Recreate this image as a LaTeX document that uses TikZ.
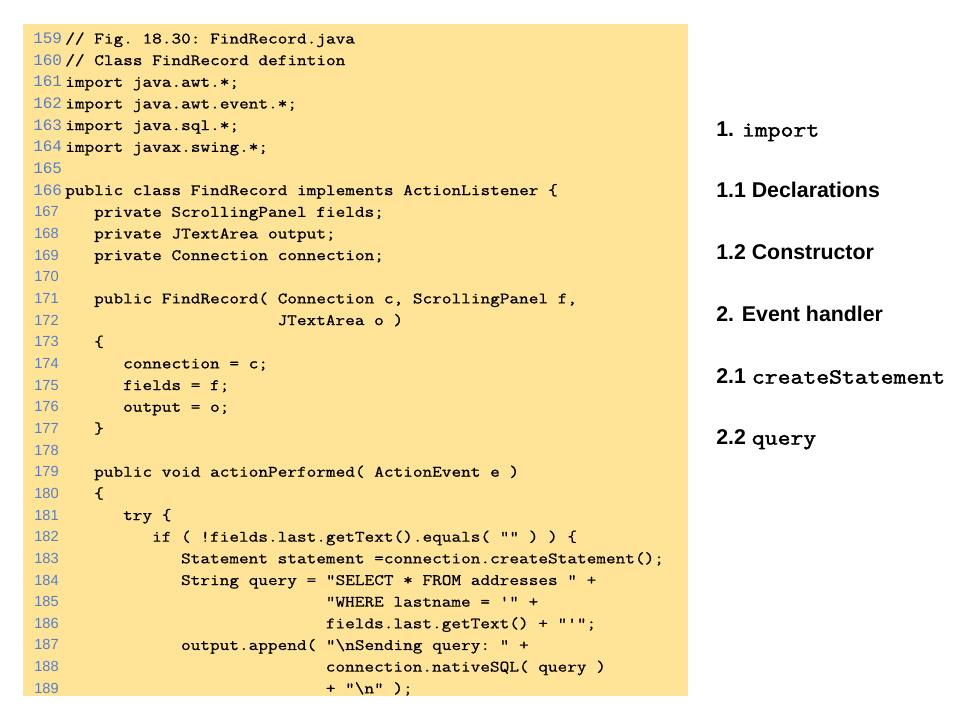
\documentclass[tikz,border=0pt]{standalone}
\usepackage{fontspec}
\setmainfont{Liberation Sans}
\setsansfont{Liberation Sans}
\setmonofont{Liberation Mono}
\newfontfamily\codefont{Latin Modern Mono}[FakeStretch=1.172,FakeBold=0.9]
\newfontfamily\codefontb{Latin Modern Mono}[FakeStretch=1.172,FakeBold=0.6]
\newfontfamily\labmono{Latin Modern Mono}[FakeStretch=1.172,FakeBold=2.0]
\definecolor{codebg}{RGB}{255,228,151}
\definecolor{lnum}{RGB}{90,126,192}
\tikzset{
  lnA/.style={inner sep=0pt, anchor=base west, text=lnum, font=\ttfamily\fontsize{12}{14}\selectfont},
  lnB/.style={inner sep=0pt, anchor=base west, text=lnum, font=\sffamily\fontsize{11}{13}\selectfont},
  codeA/.style={inner sep=0pt, anchor=base west, text=black, font=\codefont\fontsize{12}{14}\selectfont\frenchspacing},
  codeB/.style={inner sep=0pt, anchor=base west, text=black, font=\codefontb\fontsize{12}{14}\selectfont\frenchspacing},
  lab/.style={inner sep=0pt, anchor=base west, text=black, font=\sffamily\bfseries\fontsize{16}{19}\selectfont},
}
\newcommand\labtt[1]{{\labmono\fontsize{16}{19}\selectfont #1}}
\newcommand\mycl[4]{% #1 number, #2 column, #3 style, #4 text
  \pgfmathsetmacro\yy{39+(#1-159)*21.66+4.5}
  \ifnum#1<167\relax
    \node[lnA] (n#1) at (33,\yy) {#1};
  \else
    \node[lnB] (n#1) at (34,\yy) {#1};
  \fi
  \node[#3] (c#1) at ({65+#2*9.65},\yy) {#4};
}
\newcommand\myblank[1]{%
  \pgfmathsetmacro\yy{39+(#1-159)*21.66+4.5}
  \ifnum#1<167\relax
    \node[lnA] (n#1) at (33,\yy) {#1};
  \else
    \node[lnB] (n#1) at (34,\yy) {#1};
  \fi
}
\begin{document}
\begin{tikzpicture}[x=0.75pt,y=-0.75pt]
\useasboundingbox (0,0) rectangle (960,720);
\fill[white] (0,0) rectangle (960,720);
\node[fill=codebg, draw=none, inner sep=0pt, anchor=north west,
      minimum width=498.75pt, minimum height=504pt] (box) at (23,24) {};
\mycl{159}{0}{codeA}{// Fig. 18.30: FindRecord.java}
\mycl{160}{0}{codeA}{// Class FindRecord defintion}
\mycl{161}{0}{codeA}{import java.awt.*;}
\mycl{162}{0}{codeA}{import java.awt.event.*;}
\mycl{163}{0}{codeA}{import java.sql.*;}
\mycl{164}{0}{codeA}{import javax.swing.*;}
\myblank{165}
\mycl{166}{0}{codeA}{public class FindRecord implements ActionListener \{}
\mycl{167}{3}{codeA}{private ScrollingPanel fields;}
\mycl{168}{3}{codeA}{private JTextArea output;}
\mycl{169}{3}{codeA}{private Connection connection;}
\myblank{170}
\mycl{171}{3}{codeA}{public FindRecord( Connection c, ScrollingPanel f,}
\mycl{172}{22}{codeA}{JTextArea o )}
\mycl{173}{3}{codeA}{\{}
\mycl{174}{6}{codeA}{connection = c;}
\mycl{175}{6}{codeA}{fields = f;}
\mycl{176}{6}{codeA}{output = o;}
\mycl{177}{3}{codeA}{\}}
\myblank{178}
\mycl{179}{3}{codeA}{public void actionPerformed( ActionEvent e )}
\mycl{180}{3}{codeA}{\{}
\mycl{181}{6}{codeB}{try \{}
\mycl{182}{9}{codeB}{if ( !fields.last.getText().equals( "" ) ) \{}
\mycl{183}{12}{codeB}{Statement statement =connection.createStatement();}
\mycl{184}{12}{codeB}{String query = "SELECT * FROM addresses " +}
\mycl{185}{27}{codeB}{"WHERE lastname = '" +}
\mycl{186}{27}{codeB}{fields.last.getText() + "'";}
\mycl{187}{12}{codeB}{output.append( "\textbackslash nSending query: " +}
\mycl{188}{27}{codeB}{connection.nativeSQL( query )}
\mycl{189}{27}{codeB}{+ "\textbackslash n" );}
% outline labels
\node[lab] (l1) at (716,136.5) {1. \labtt{import}};
\node[lab] (l2) at (716,197.5) {1.1 Declarations};
\node[lab] (l3) at (716,259.5) {1.2 Constructor};
\node[lab] (l4) at (716,321.5) {2. Event handler};
\node[lab] (l5) at (716,383.5) {2.1 \labtt{createStatement}};
\node[lab] (l6) at (716,444.5) {2.2 \labtt{query}};
\end{tikzpicture}
\end{document}
